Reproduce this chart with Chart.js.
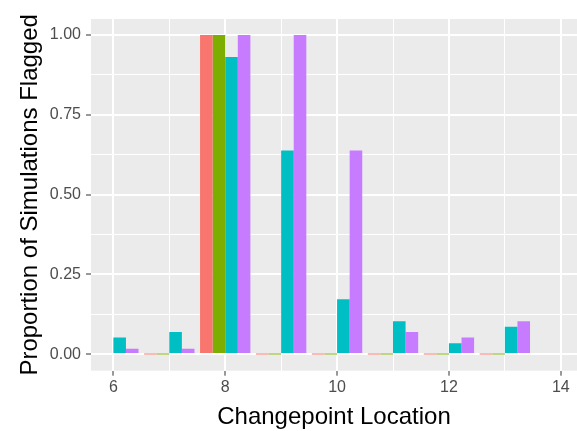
<!DOCTYPE html>
<html>
<head>
<meta charset="utf-8">
<script src="https://cdn.jsdelivr.net/npm/chart.js@4"></script>
<style>
  body { margin: 0; background: #fff; }
  canvas { display: block; }
</style>
</head>
<body>
<canvas id="chart" width="577" height="431"></canvas>
<script>
const locations = [6, 7, 8, 9, 10, 11, 12, 13];
const seriesRed = [null, 0, 1, 0, 0, 0, 0, 0];
const seriesGreen = [null, 0, 1, 0, 0, 0, 0, 0];
const seriesCyan = [0.052, 0.069, 0.931, 0.638, 0.172, 0.103, 0.034, 0.086];
const seriesPurple = [0.017, 0.017, 1, 1, 0.638, 0.069, 0.052, 0.103];

const xTicks = [6, 7, 8, 9, 10, 11, 12, 13, 14];
const xLabels = [6, 8, 10, 12, 14];
const yTicks = [0, 0.125, 0.25, 0.375, 0.5, 0.625, 0.75, 0.875, 1];
const yLabels = [0, 0.25, 0.5, 0.75, 1];

Chart.defaults.font.family = "'Liberation Sans', Arial, sans-serif";

function toPoints(values) {
  return locations.map((x, i) => ({ x: x, y: values[i] }));
}

// grey ggplot panel behind the bars
const panelBg = {
  id: "panelBg",
  beforeDraw(chart) {
    const { ctx, chartArea: a } = chart;
    ctx.save();
    ctx.fillStyle = "#EBEBEB";
    ctx.fillRect(a.left, a.top, a.right - a.left, a.bottom - a.top);
    ctx.restore();
  },
};

function gridOpts(labels) {
  return {
    color: "#ffffff",
    lineWidth: (c) => (c.tick && labels.includes(c.tick.value) ? 2 : 1),
    drawTicks: true,
    tickLength: 5,
    tickWidth: 1,
    tickColor: (c) => (c.tick && labels.includes(c.tick.value) ? "#333333" : "rgba(0,0,0,0)"),
    offset: false,
  };
}

new Chart(document.getElementById("chart"), {
  type: "bar",
  data: {
    datasets: [
      { label: "red", data: toPoints(seriesRed), backgroundColor: "#F8766D" },
      { label: "green", data: toPoints(seriesGreen), backgroundColor: "#7CAE00" },
      { label: "cyan", data: toPoints(seriesCyan), backgroundColor: "#00BFC4" },
      { label: "purple", data: toPoints(seriesPurple), backgroundColor: "#C77CFF" },
    ],
  },
  options: {
    responsive: false,
    animation: false,
    layout: { padding: { top: 19, right: 0, left: 0, bottom: 0 } },
    plugins: {
      legend: { display: false },
      tooltip: { enabled: false },
    },
    datasets: {
      bar: {
        categoryPercentage: 0.9,
        barPercentage: 1,
        minBarLength: 1,
        borderWidth: 0,
      },
    },
    scales: {
      x: {
        type: "linear",
        min: 5.6,
        max: 14.29,
        offset: false,
        afterBuildTicks: (s) => {
          s.ticks = xTicks.map((v) => ({ value: v }));
        },
        afterFit: (s) => {
          s.height = 60.3;
        },
        grid: gridOpts(xLabels),
        border: { display: false },
        ticks: {
          autoSkip: false,
          maxRotation: 0,
          padding: 2,
          color: "#4D4D4D",
          font: { size: 16 },
          callback: (v) => (xLabels.includes(v) ? String(v) : ""),
        },
        title: {
          display: true,
          text: "Changepoint Location",
          color: "#000000",
          font: { size: 24, lineHeight: 1.1 },
          padding: 0,
        },
      },
      y: {
        min: -0.052,
        max: 1.05,
        afterBuildTicks: (s) => {
          s.ticks = yTicks.map((v) => ({ value: v }));
        },
        afterFit: (s) => {
          s.width = 91;
        },
        grid: gridOpts(yLabels),
        border: { display: false },
        ticks: {
          autoSkip: false,
          padding: 5,
          color: "#4D4D4D",
          font: { size: 16 },
          callback: (v) => (yLabels.includes(v) ? v.toFixed(2) : ""),
        },
        title: {
          display: true,
          text: "Proportion of Simulations Flagged",
          color: "#000000",
          font: { size: 24 },
          padding: { top: 16, bottom: 0 },
        },
      },
    },
  },
  plugins: [panelBg],
});
</script>
</body>
</html>
